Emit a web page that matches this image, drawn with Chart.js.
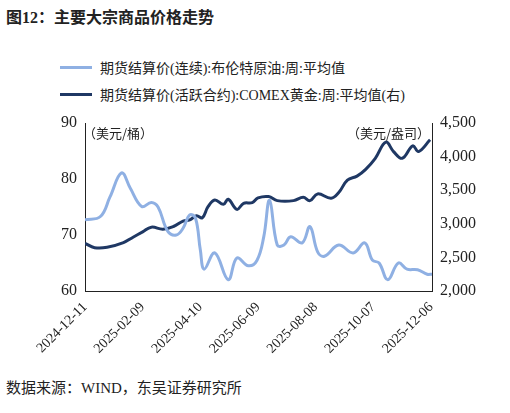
<!DOCTYPE html><html><head><meta charset="utf-8">
<script src="https://cdn.jsdelivr.net/npm/chart.js@4"></script>
<style>
body{margin:0;width:510px;height:413px;position:relative;font-family:"Liberation Serif","Noto Sans CJK SC",serif;background:#fff;overflow:hidden}
#t{position:absolute;left:6px;top:4px;font-size:16px;font-weight:bold;color:#222}
.lg{position:absolute;left:60px;font-size:14px;color:#222;display:flex;align-items:center}
.lg i{display:inline-block;width:32px;height:3px;margin-right:8px}
#f{position:absolute;left:6px;top:376px;font-size:15px;color:#222}
canvas{position:absolute;left:0;top:0}
</style></head><body>
<div id="t">图12：主要大宗商品价格走势</div>
<div class="lg" style="top:57px"><i style="background:#8fb0e3"></i>期货结算价(连续):布伦特原油:周:平均值</div>
<div class="lg" style="top:84px"><i style="background:#1f3864"></i>期货结算价(活跃合约):COMEX黄金:周:平均值(右)</div>
<div id="f">数据来源：WIND，东吴证券研究所</div>
<canvas id="c" width="510" height="413"></canvas>
<script>
const startDate = new Date(Date.UTC(2024,11,11));
const brentDays=[0,16,26,38,47,59,69,76,86,95,102,109,115,120,124,135,149,158,170,179,186,192,200,207,214,226,234,242,249,264,279,291,299,306,315,326,335,346,356,361];
const brentVals=[72.7,73.3,76.8,81.1,78.4,75.1,75.8,75,70.7,70,71.2,73.6,73,67.3,63.9,66.8,62,65.9,64.5,65.5,69.7,76.2,68.2,68.2,69.7,68.6,71.5,67,66.2,68.2,66.8,68.6,65.5,65,62,65,63.9,63.8,63,63];
const goldDays=[0,10,23,40,50,60,69,81,92,102,109,116,122,128,135,144,149,158,165,174,180,191,200,217,227,234,242,256,264,273,283,292,302,313,321,330,341,347,359];
const goldVals=[2710,2645,2650,2720,2800,2880,2950,2920,2960,3040,3060,3120,3090,3255,3355,3290,3365,3215,3305,3315,3385,3405,3345,3345,3395,3345,3445,3380,3465,3650,3710,3810,3975,4215,4075,3975,4160,4075,4250];
function fmt(d){const t=new Date(startDate.getTime()+d*86400000);return t.getUTCFullYear()+'-'+String(t.getUTCMonth()+1).padStart(2,'0')+'-'+String(t.getUTCDate()).padStart(2,'0');}
const unitPlugin={id:'u',afterDraw(c){const g=c.ctx,a=c.chartArea;g.save();g.font='13px "Noto Sans CJK SC"';g.fillStyle='#222';g.textBaseline='top';g.textAlign='left';g.fillText('（美元/桶）',a.left-2,a.top+4);g.textAlign='right';g.fillText('（美元/盎司）',a.right-2,a.top+4);g.restore();}};
const tk={color:'#222',font:{size:14,family:'"Liberation Serif"'}};
new Chart(document.getElementById('c'),{type:'line',
data:{datasets:[
{data:brentDays.map((d,i)=>({x:d,y:brentVals[i]})),borderColor:'#8fb0e3',borderWidth:3,pointRadius:0,tension:0.4,yAxisID:'y'},
{data:goldDays.map((d,i)=>({x:d,y:goldVals[i]})),borderColor:'#1f3864',borderWidth:3,pointRadius:0,tension:0.4,yAxisID:'y2'}]},
options:{responsive:false,animation:false,plugins:{legend:{display:false},tooltip:{enabled:false}},
layout:{padding:{top:123,left:0,right:0,bottom:0}},
scales:{
x:{type:'linear',min:0,max:361,afterBuildTicks(s){s.ticks=[0,60,120,180,240,300,360].map(v=>({value:v}));},afterFit(s){s.height=122;},
 grid:{display:false,drawTicks:true,tickLength:5,tickColor:'#222'},border:{color:'#222'},
 ticks:{...tk,minRotation:45,maxRotation:45,callback:v=>fmt(v)}},
y:{position:'left',min:60,max:90,afterFit(s){s.width=85;},grid:{display:false,tickLength:5,tickColor:'#222'},border:{color:'#222'},ticks:{...tk,stepSize:10,font:{size:16,family:'"Liberation Serif"'}}},
y2:{position:'right',min:2000,max:4500,afterFit(s){s.width=78;},grid:{display:false,tickLength:5,tickColor:'#222'},border:{color:'#222'},ticks:{...tk,stepSize:500,font:{size:16,family:'"Liberation Serif"'},callback:v=>v.toLocaleString('en-US')}}
}},plugins:[unitPlugin]});
</script></body></html>
